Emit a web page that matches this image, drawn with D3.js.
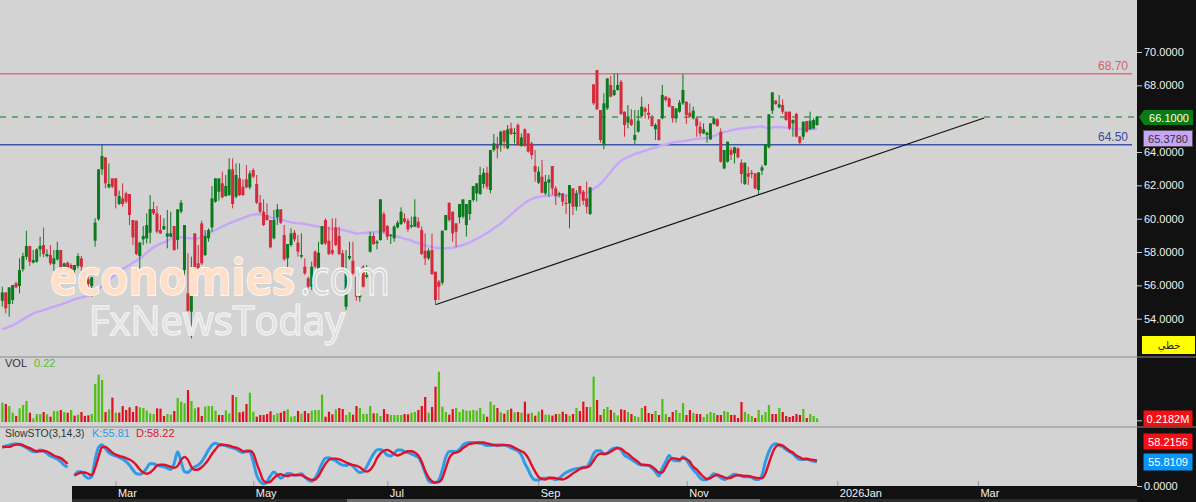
<!DOCTYPE html>
<html>
<head>
<meta charset="utf-8">
<script src="https://cdn.jsdelivr.net/npm/d3@7"></script>
<style>
  html, body { margin: 0; padding: 0; background: #d3d3d3; overflow: hidden; }
  svg { display: block; font-family: "Liberation Sans", Arial, sans-serif; }
</style>
</head>
<body>
<script>
// daily candles, 238 sessions
const opens = [
55.08,55.58,54.88,55.12,56.12,55.96,56.96,57.72,58.36,57.36,
57.42,58.16,58.42,57.76,57.82,57.28,57.56,58.12,57.02,57.36,
57.22,56.92,57.16,57.62,56.2,56.36,55.96,58.68,59.96,62.96,63.68,
61.88,62.42,62.42,60.88,61.22,61.52,61.48,59.92,59.88,57.76,
58.76,58.82,59.16,60.58,60.32,59.32,59.36,58.92,58.92,59.56,
58.72,60.42,56.92,55.52,54.42,59.12,57.32,59.72,57.82,58.82,
59.48,61.02,61.62,62.12,61.36,61.42,62.96,61.32,62.42,61.92,
62.36,61.88,62.92,62.08,60.96,60.42,60.22,59.92,58.82,60.08,
60.56,59.02,57.62,58.42,59.16,58.56,
57.72,57.12,56.42,55.92,58.02,56.96,58.48,59.92,58.68,58.12,
59.48,58.96,57.92,54.72,57.62,57.48,56.52,55.28,57.12,56.52,
58.02,58.96,58.52,58.72,60.28,59.56,58.96,58.82,59.48,59.68,
60.02,59.88,59.52,59.52,59.82,59.32,58.08,57.62,58.12,56.82,
56.22,56.16,59.32,60.96,60.42,59.72,60.08,60.12,59.62,60.28,
61.12,61.52,61.48,62.08,62.76,61.72,64.12,64.42,64.42,65.28,
64.22,65.42,65.08,65.62,64.36,65.36,65.12,64.52,63.16,62.16,
62.52,61.52,62.16,63.16,61.82,61.42,61.52,60.96,60.92,61.82,
60.72,61.96,61.62,61.22,60.28,
68.06,68.92,66.52,64.42,66.62,68.02,67.42,67.72,68.22,66.42,
65.76,65.96,64.72,65.22,66.16,66.62,66.36,66.08,65.36,65.96,
66.02,67.32,67.22,66.76,66.02,66.42,66.92,67.02,66.36,66.02,
66.02,65.52,65.12,65.02,64.76,65.68,65.96,65.22,63.02,63.42,
64.12,63.92,64.22,63.36,62.08,62.72,62.76,62.72,61.72,62.88,
63.22,64.28,66.48,67.08,66.68,66.82,66.42,66.42,65.72,66.28,
64.92,64.92,65.86,65.36,65.42,65.62
];
const highs = [
55.92,55.58,55.88,56.02,56.22,57.62,57.96,59.28,58.36,58.12,
58.22,58.92,59.46,58.16,58.42,58.12,58.62,58.12,57.36,57.42,
57.32,57.22,57.92,57.76,56.32,56.52,56.52,60.02,62.96,64.44,63.68,
63.32,62.42,62.42,61.68,62.12,61.62,61.48,59.92,59.88,58.62,
59.56,60.32,61.42,61.02,60.76,60.22,60.02,60.52,60.42,59.56,
60.56,61.12,59.62,57.92,57.72,59.12,58.42,59.88,59.32,59.42,
61.96,62.42,62.42,62.82,62.62,63.62,63.62,63.32,63.32,62.36,
63.22,62.88,63.02,62.62,61.42,61.16,60.92,59.92,60.52,60.88,
60.56,59.62,58.48,59.42,59.32,59.02,
59.12,57.62,56.52,57.42,58.12,58.62,59.56,60.02,59.52,60.02,
60.02,59.52,58.12,58.12,58.62,58.62,56.92,55.72,57.22,57.22,
59.22,59.16,58.72,61.16,60.42,59.62,59.08,59.62,59.88,60.68,
60.32,60.02,60.12,61.16,60.08,59.52,59.12,58.22,59.12,56.82,
56.32,59.28,60.22,60.96,60.42,59.72,60.88,61.16,60.88,61.12,
61.96,62.12,63.12,63.02,63.12,64.12,65.08,64.92,65.28,65.32,
65.62,65.76,65.42,65.72,65.12,65.42,65.12,64.62,64.12,63.12,
63.52,62.62,62.62,63.16,61.96,61.62,61.52,61.42,62.02,61.82,
61.72,61.96,61.72,62.22,61.88,
68.06,68.92,66.52,67.52,68.42,68.56,68.72,68.72,68.32,66.42,
66.82,66.56,66.52,66.52,67.32,66.72,66.88,66.22,65.72,65.96,
68.02,67.36,67.28,66.76,66.62,67.12,68.68,67.02,66.92,66.72,
66.08,65.82,65.72,65.22,65.72,66.08,66.02,65.42,64.12,64.62,
64.28,64.32,64.28,63.56,63.36,63.12,62.92,62.72,62.78,63.22,
64.48,66.26,67.58,67.12,67.42,67.16,66.42,66.42,65.96,66.36,
64.96,65.82,65.86,66.42,66.02,66.16
];
const lows = [
54.72,54.32,54.12,54.88,55.82,55.52,56.82,57.52,57.16,57.32,
57.36,57.72,57.68,57.68,57.22,56.88,57.48,56.96,56.96,56.92,
56.52,56.72,57.02,56.72,55.92,55.92,55.32,58.32,59.88,62.62,61.82,
61.82,61.82,60.62,60.82,60.72,60.92,59.62,58.42,57.82,56.92,
58.42,58.52,58.52,60.22,59.12,59.08,59.32,58.22,58.88,58.08,
58.16,60.32,56.52,54.42,52.82,56.72,56.82,57.22,57.76,58.62,
59.22,60.96,61.08,61.22,61.32,61.36,60.62,61.22,61.36,61.36,
61.82,61.76,62.42,60.88,60.32,59.56,59.88,58.22,58.76,59.62,
59.68,57.48,56.92,58.32,58.62,57.72,
57.62,56.62,55.82,55.72,57.02,56.92,58.42,58.42,57.82,57.82,
58.36,57.82,56.88,54.52,57.52,56.62,55.08,55.02,55.88,56.42,
57.96,58.42,58.16,58.68,59.12,58.72,58.48,58.62,59.42,59.62,
59.72,59.22,59.42,59.48,59.42,57.82,57.22,57.52,56.62,54.82,
55.12,56.02,59.28,59.82,58.62,58.28,59.72,60.02,58.92,59.92,
61.02,61.02,61.42,61.82,61.76,61.52,64.02,63.62,64.02,64.22,
64.16,65.02,64.52,64.36,64.32,64.32,63.96,63.56,62.22,62.08,
61.52,61.42,61.32,61.42,60.82,61.28,60.76,60.28,59.42,60.22,
60.48,60.72,60.82,60.32,60.22,
66.82,66.52,64.56,64.16,66.52,67.28,67.36,67.68,66.22,64.92,
65.42,65.56,64.48,65.16,66.08,66.02,65.96,65.52,64.72,64.68,
65.96,67.02,66.68,65.76,65.76,66.36,66.82,65.68,66.08,65.96,
64.92,64.92,65.08,64.56,64.72,65.62,65.52,63.36,62.96,63.36,
63.52,63.32,63.62,62.12,62.02,62.02,62.42,61.76,61.42,62.62,
63.16,64.22,66.28,66.82,66.62,66.28,65.88,65.32,64.92,64.88,
64.42,64.72,65.16,65.32,65.36,65.56
];
const closes = [
55.58,54.62,55.88,56.02,55.88,56.92,57.76,58.36,57.42,57.52,
58.16,58.36,57.88,57.88,57.32,57.62,58.12,57.02,57.32,56.96,
56.82,57.22,57.76,57.12,56.04,56.08,56.48,59.76,62.96,63.76,62.12,
62.08,61.92,61.36,61.36,60.88,61.02,60.22,58.88,57.88,58.56,
58.96,59.62,60.58,60.32,59.22,59.12,59.56,59.12,59.12,58.12,
60.56,60.96,59.62,54.48,55.52,56.92,56.92,57.32,58.96,59.32,
61.22,62.42,62.42,61.28,61.96,62.96,60.88,62.62,61.42,61.42,
61.88,62.72,62.52,60.96,60.42,59.62,59.92,58.28,59.92,60.56,
59.76,57.56,58.48,59.12,58.76,58.02,
57.82,56.72,55.92,57.12,57.12,57.96,59.56,58.52,57.88,57.92,
58.42,57.88,56.96,56.96,57.76,56.72,55.32,55.42,55.92,56.62,
58.96,58.48,58.62,61.16,59.22,58.92,59.02,59.52,59.76,60.42,
59.82,59.36,59.62,60.12,59.48,57.88,57.62,58.08,56.68,55.12,
55.92,59.28,60.22,59.92,59.12,59.22,60.88,61.16,60.88,61.12,
61.96,62.12,62.62,62.76,61.92,64.12,64.52,64.22,65.22,64.62,
65.36,65.08,65.16,64.42,64.88,64.36,64.02,63.82,62.82,62.82,
61.56,62.22,62.36,61.82,61.36,61.52,61.02,60.88,62.02,60.72,
61.52,61.52,61.08,60.72,61.88,
66.92,66.56,64.72,66.92,68.42,67.32,67.72,68.02,66.28,65.62,
66.08,65.62,65.02,65.88,66.72,66.42,66.22,65.56,65.62,64.72,
67.42,67.12,66.72,66.02,66.62,66.96,67.72,66.22,66.12,66.48,
65.56,65.12,65.36,65.16,65.72,66.02,65.56,63.42,64.12,64.62,
63.82,64.28,63.68,62.68,63.36,62.52,62.68,61.82,62.78,63.08,
64.48,66.26,67.58,66.88,66.86,66.42,65.92,65.42,65.92,64.92,
64.56,65.82,65.22,65.88,65.92,66.10
];
// moving average line on the price pane
const maValues = [
53.38,53.44,53.52,53.6,53.7,53.84,53.96,54.08,54.2,54.3,
54.4,54.46,54.52,54.58,54.66,54.72,54.78,54.84,54.92,55,
55.08,55.16,55.22,55.26,55.32,55.38,55.48,55.62,55.78,55.96,
56.16,56.32,56.5,56.66,56.82,56.98,57.1,57.22,57.36,57.48,
57.62,57.76,57.96,58.12,58.28,58.4,58.5,58.58,58.68,58.78,
58.88,58.9,58.88,58.86,58.84,58.82,58.8,58.82,58.88,59,
59.1,59.22,59.32,59.42,59.54,59.62,59.72,59.8,59.88,59.96,
60.04,60.12,60.2,60.24,60.28,60.26,60.2,60.14,60.08,60.04,
60,59.96,59.9,59.84,59.78,59.75,59.72,
59.72,59.68,59.64,59.6,59.56,59.52,59.48,59.44,59.42,59.4,59.38,
59.36,59.32,59.28,59.22,59.16,59.1,59.12,59.14,59.16,59.18,
59.2,59.22,59.2,59.16,59.08,59.02,58.96,58.92,58.86,58.8,
58.74,58.68,58.6,58.54,58.46,58.4,58.34,58.3,58.26,58.24,
58.22,58.22,58.24,58.26,58.3,58.36,58.42,58.5,58.58,58.68,
58.78,58.9,59.02,59.14,59.28,59.42,59.56,59.7,59.88,60.06,
60.26,60.44,60.62,60.78,60.94,61.08,61.18,61.26,61.3,61.34,
61.36,61.38,61.4,61.36,61.38,61.4,61.42,61.44,61.46,61.48,
61.5,61.52,61.56,61.64,
61.8,61.92,62.08,62.32,62.56,62.78,63.08,63.28,63.48,63.6,
63.7,63.8,63.88,63.94,64.02,64.08,64.14,64.22,64.28,64.36,
64.42,64.46,64.52,64.56,64.6,64.62,64.64,64.68,64.72,64.76,
64.78,64.8,64.82,64.84,64.92,64.96,65.04,65.12,65.2,65.24,
65.3,65.36,65.38,65.42,65.44,65.46,65.48,65.5,65.52,65.54,
65.46,65.42,65.46,65.5,65.5,65.48,65.46,65.42,65.4,65.4,
65.39,65.385,65.38,65.38,65.378,65.378
];
// volume in millions
const volumes = [
1.16,1.08,.96,.56,.36,.82,1.02,1.26,.56,.22,
.48,.48,.6,.46,.32,.66,.66,.72,.6,.56,
.72,.38,.44,.6,.36,.4,.48,2.28,2.84,2.52,.6,
.76,1.46,.56,.56,.96,.72,.88,.6,.96,.88,
.84,.68,.52,.48,.82,.8,.36,.48,.44,.66,
1.44,1.22,1.12,1.92,1.26,.82,.88,.36,.92,.96,
.96,.68,.42,.42,.7,.52,1.62,1.5,.58,.62,
1.08,1.76,.62,.32,.42,.42,.48,.64,.42,.52,
.56,.66,.76,.32,.36,.66,
.5,.66,.52,.68,.72,.72,1.64,.32,.62,.46,
.76,.84,.78,.42,.6,.44,.96,.84,.48,.48,
.96,.52,.52,.36,.78,.48,.42,.42,.42,.42,
.48,.46,.56,.6,.72,.96,1.5,.56,.9,2.12,
3.02,.92,.6,.44,.78,.84,.6,.76,.68,.68,
.72,.68,.84,.48,.32,1.22,1.02,.84,.58,.5,
.72,.8,.58,.6,.56,1.22,.5,.56,.38,.62,
.74,.44,.44,.38,.48,.48,.62,.48,.38,.48,
.84,.66,1.22,.9,.9,2.72,1.32,.42,
.78,.9,.72,.56,.4,.76,.72,.6,.48,.36,
.3,.84,.96,.54,.48,.66,.42,1.38,.48,.3,
.6,.72,.54,1.14,.42,.72,.54,.48,.48,.3,
.48,.6,.54,.42,.42,.66,.6,.42,.42,.24,
1.2,.6,.48,.36,.24,.72,.42,.6,1.02,.48,
.48,.84,.6,.36,.3,.36,.48,.42,.78,.24,
.48,.36,.2182
];
// 1 = green volume bar, 0 = red, the colour does not always follow the candle
const volumeUp = [
1,0,1,1,0,1,1,1,0,1,
1,1,0,1,0,1,1,0,1,0,
1,0,1,0,0,0,1,1,1,1,
0,1,0,1,0,0,0,0,0,0,
1,1,1,1,1,0,0,0,1,1,
0,1,1,1,0,1,1,0,0,1,
1,1,1,0,0,1,1,0,1,0,
0,0,1,1,0,0,0,0,0,1,
1,0,0,1,1,1,0,
1,0,0,1,1,1,1,0,0,0,
1,0,0,1,1,0,0,1,1,1,
1,0,1,1,0,0,1,1,1,1,
0,0,1,1,0,0,0,1,0,0,
1,1,1,0,0,1,1,1,1,1,
1,1,1,1,0,1,1,0,1,0,
1,0,1,0,1,0,0,1,0,1,
0,1,1,0,0,1,0,0,1,0,
1,0,0,0,1,1,0,0,
1,1,0,1,1,0,0,1,0,1,
1,1,0,0,0,1,0,1,1,0,
0,1,1,1,0,0,1,0,0,1,
1,1,1,0,0,1,1,0,0,0,
0,1,1,1,0,1,1,1,1,0,
0,1,0,0,0,0,0,0,1,0,
1,1,1
];
// slow stochastic, null where the line breaks
const stochK = [
90,92,94,96,97,95,92,88,83,79,79,83,80,75,69,66,62,56,48,43,
null,23,33,33,23,18,21,60,89,95,86,77,72,69,66,62,56,48,37,28,
27,31,41,52,51,48,46,44,41,38,52,79,56,33,31,39,44,48,56,69,
83,94,98,96,94,93,90,88,85,80,77,81,79,56,25,10,5,10,23,32,
25,18,23,29,28,25,26,
28,21,14,11,18,33,52,64,65,61,58,52,48,47,50,46,37,31,33,44,
60,74,83,84,79,71,69,75,83,83,79,77,74,70,66,52,31,12,8,8,
14,37,66,79,80,79,84,94,99,100,100,100,98,96,93,93,94,94,94,94,
92,88,84,80,71,52,37,21,14,14,18,18,18,17,15,18,25,31,35,38,
40,41,43,44,56,74,81,
81,73,75,83,87,88,83,71,66,61,56,51,48,48,47,41,33,23,41,56,
70,60,58,58,67,60,48,37,29,18,14,15,21,28,25,19,15,18,23,27,
25,23,21,21,20,15,15,25,56,79,93,97,94,90,84,79,74,66,61,61,
62,59,57,55.81
];
const stochD = [
89,90,90,93,95,96,94,90,87,83,80,80,81,79,75,70,67,64,58,51,
null,25,28,31,31,28,25,41,67,89,90,84,77,72,69,67,64,61,56,48,
38,31,28,31,38,47,49,49,47,44,42,46,60,67,60,44,37,38,43,51,
61,74,84,93,95,94,93,90,88,85,80,79,81,75,52,31,12,8,10,18,
25,27,24,23,25,25,25,
25,21,17,14,15,23,37,51,60,63,63,61,58,54,51,48,47,43,37,33,
37,48,64,75,81,83,79,74,70,73,77,80,80,77,70,56,35,20,11,8,
9,18,41,64,74,77,80,87,92,97,98,99,100,100,98,96,94,93,94,94,
94,92,88,84,80,75,64,48,33,21,16,15,19,19,18,16,15,18,23,29,
34,39,42,43,47,58,70,
74,74,75,79,84,87,86,79,74,67,61,55,49,48,48,44,38,31,31,44,
58,64,63,61,64,62,56,44,38,29,21,16,18,23,26,23,20,18,19,23,
25,24,23,23,21,19,18,18,29,52,75,90,95,93,87,81,77,70,66,62,
62,61,60,58.22
];
// axes and levels, 66 is hidden behind the last price flag in the picture
const priceTicks = [54, 56, 58, 60, 62, 64, 68, 70];
const monthIdx = [32.9, 73, 112, 155.9, 199.1, 242.9, 283.8];
const monthLabels = ["Mar", "May", "Jul", "Sep", "Nov", "2026Jan", "Mar"];
const levelValues = [68.70, 64.44];
const levelLabels = ["68.70", "64.50"];
const lastPrice = 66.10;
const trendIdx = [126.2, 285.6];
const trendPrices = [54.85, 66.04];

const width = 1196, height = 502;
const plotRight = 1137;
const upColor = "#0b7a1c", downColor = "#d42a3c";

const x = d3.scaleLinear().domain([0, opens.length - 1]).range([2.3, 817]);
const yPrice = d3.scaleLinear().domain([54, 70]).range([318.7, 52]);
const yVol = d3.scaleLinear().domain([0, 3]).range([422, 372]);
const yStoch = d3.scaleLinear().domain([0, 100]).range([486, 442.5]);

const svg = d3.select("body").append("svg")
    .attr("width", width)
    .attr("height", height);

svg.append("rect").attr("width", width).attr("height", height).attr("fill", "#d3d3d3");

const idx = d3.range(opens.length);
const isUp = i => closes[i] >= opens[i];

// price levels
svg.selectAll(".level")
    .data(levelValues)
    .enter().append("line")
    .attr("x1", 0)
    .attr("x2", 1132)
    .attr("y1", d => yPrice(d))
    .attr("y2", d => yPrice(d))
    .attr("stroke", (d, i) => i == 0 ? "#e2707e" : "#3c55ad")
    .attr("stroke-width", 1.5);

svg.selectAll(".levelLabel")
    .data(levelLabels)
    .enter().append("text")
    .attr("x", 1128)
    .attr("y", (d, i) => yPrice(levelValues[i]) - 4)
    .attr("text-anchor", "end")
    .attr("font-size", 12)
    .attr("fill", (d, i) => i == 0 ? "#d8606f" : "#3a4a9a")
    .text(d => d);

svg.append("line")
    .attr("x1", 0)
    .attr("x2", plotRight)
    .attr("y1", yPrice(lastPrice))
    .attr("y2", yPrice(lastPrice))
    .attr("stroke", upColor)
    .attr("stroke-dasharray", "6,6");

// moving average
svg.append("path")
    .datum(maValues)
    .attr("fill", "none")
    .attr("stroke", "#c6a6fb")
    .attr("stroke-width", 2.4)
    .attr("d", d3.line().x((d, i) => x(i)).y(d => yPrice(d)));

// candles
svg.selectAll(".wick")
    .data(idx)
    .enter().append("line")
    .attr("x1", i => x(i))
    .attr("x2", i => x(i))
    .attr("y1", i => yPrice(highs[i]))
    .attr("y2", i => yPrice(lows[i]))
    .attr("stroke", i => isUp(i) ? upColor : downColor)
    .attr("stroke-width", 1);

svg.selectAll(".body")
    .data(idx)
    .enter().append("rect")
    .attr("x", i => x(i) - 1.5)
    .attr("width", 3)
    .attr("y", i => yPrice(Math.max(opens[i], closes[i])))
    .attr("height", i => Math.max(1, Math.abs(yPrice(opens[i]) - yPrice(closes[i]))))
    .attr("fill", i => isUp(i) ? upColor : downColor);

// trend line
svg.append("line")
    .attr("x1", x(trendIdx[0]))
    .attr("y1", yPrice(trendPrices[0]))
    .attr("x2", x(trendIdx[1]))
    .attr("y2", yPrice(trendPrices[1]))
    .attr("stroke", "#111")
    .attr("stroke-width", 1.2);

// watermark sits on top of the candles
svg.append("text")
    .attr("x", 50)
    .attr("y", 295)
    .attr("font-family", "'Open Sans', sans-serif")
    .attr("font-weight", 700)
    .attr("font-size", 50)
    .attr("textLength", 245)
    .attr("lengthAdjust", "spacingAndGlyphs")
    .attr("fill", "#ffdfc9")
    .attr("stroke", "#fff")
    .attr("stroke-width", 1.5)
    .attr("paint-order", "stroke")
    .text("economies");
svg.append("text")
    .attr("x", 300)
    .attr("y", 295)
    .attr("font-family", "'Open Sans', sans-serif")
    .attr("font-size", 50)
    .attr("textLength", 90)
    .attr("lengthAdjust", "spacingAndGlyphs")
    .attr("fill", "#d3d3d3")
    .attr("stroke", "#f6f6f6")
    .attr("stroke-width", 1.4)
    .text(".com");
svg.append("text")
    .attr("x", 89)
    .attr("y", 335)
    .attr("font-family", "'Open Sans', sans-serif")
    .attr("font-size", 41)
    .attr("textLength", 256)
    .attr("lengthAdjust", "spacingAndGlyphs")
    .attr("fill", "#dcdcdc")
    .attr("stroke", "#f0f0f0")
    .attr("stroke-width", 1.6)
    .text("FxNewsToday");

// volume pane
svg.selectAll(".vol")
    .data(idx)
    .enter().append("rect")
    .attr("x", i => x(i) - 1)
    .attr("width", 2.2)
    .attr("y", i => yVol(volumes[i]))
    .attr("height", i => yVol(0) - yVol(volumes[i]))
    .attr("fill", i => volumeUp[i] ? "#4fbf14" : "#e0101e");

// stochastic pane
const stochLine = d3.line()
    .defined(d => d != null)
    .x((d, i) => x(i))
    .y(d => yStoch(d))
    .curve(d3.curveMonotoneX);

svg.append("path")
    .datum(stochK)
    .attr("fill", "none")
    .attr("stroke", "#2f9be6")
    .attr("stroke-width", 3)
    .attr("d", stochLine);
svg.append("path")
    .datum(stochD)
    .attr("fill", "none")
    .attr("stroke", "#e0102a")
    .attr("stroke-width", 2.4)
    .attr("d", stochLine);

svg.append("text").attr("x", 5).attr("y", 367).attr("font-size", 11).attr("fill", "#333").text("VOL");
svg.append("text").attr("x", 34).attr("y", 367).attr("font-size", 11).attr("fill", "#5fb82e").text("0.22");
svg.append("text").attr("x", 5).attr("y", 437).attr("font-size", 10.4).attr("fill", "#333").text("SlowSTO(3,14,3)");
svg.append("text").attr("x", 92).attr("y", 437).attr("font-size", 11).attr("fill", "#2f9be6").text("K:55.81");
svg.append("text").attr("x", 136).attr("y", 437).attr("font-size", 11).attr("fill", "#d0202e").text("D:58.22");

// right hand scale and bottom time bar
svg.append("rect").attr("x", plotRight).attr("y", 0).attr("width", width - plotRight).attr("height", height).attr("fill", "#111");
svg.append("rect").attr("x", 72).attr("y", 486).attr("width", plotRight - 72).attr("height", 13).attr("fill", "#111");
svg.append("rect").attr("x", 72).attr("y", 499).attr("width", plotRight - 72).attr("height", 3).attr("fill", "#2b2b2b");
svg.append("rect").attr("x", 347).attr("y", 499).attr("width", 413).attr("height", 3).attr("fill", "#6a6a6a");

const priceAxis = svg.append("g")
    .attr("transform", "translate(" + plotRight + ",0)")
    .call(d3.axisRight(yPrice).tickValues(priceTicks).tickFormat(d3.format(".4f")).tickSize(5).tickPadding(2));
const volAxis = svg.append("g")
    .attr("transform", "translate(" + plotRight + ",0)")
    .call(d3.axisRight(yVol).tickValues([0.1]).tickFormat("").tickSize(5));
const stochAxis = svg.append("g")
    .attr("transform", "translate(" + plotRight + ",0)")
    .call(d3.axisRight(yStoch).tickValues([0]).tickFormat(d3.format(".4f")).tickSize(5).tickPadding(2));
const timeAxis = svg.append("g")
    .attr("transform", "translate(0,486)")
    .call(d3.axisBottom(x).tickValues(monthIdx).tickFormat((d, i) => monthLabels[i]).tickSize(-5));

[priceAxis, volAxis, stochAxis, timeAxis].forEach(g => {
    g.select(".domain").remove();
    g.attr("font-family", null).attr("font-size", 11);
    g.selectAll("text").attr("fill", "#f2f2f2");
});
priceAxis.selectAll("line").attr("stroke", "#ccc");
volAxis.selectAll("line").attr("stroke", "#ccc");
stochAxis.selectAll("line").attr("stroke", "#ccc");
timeAxis.selectAll("line").attr("stroke", "#999");
timeAxis.selectAll("text")
    .attr("text-anchor", "start")
    .attr("x", 2)
    .attr("y", 3);

// pane separators
svg.selectAll(".sep")
    .data([357, 427])
    .enter().append("line")
    .attr("x1", 0)
    .attr("x2", width)
    .attr("y1", d => d)
    .attr("y2", d => d)
    .attr("stroke", "#8a8a8a");

// value flags on the scale
const flags = [
    { text: "65.3780", y: 130, h: 16, fill: "#c9a4fb", color: "#333", stroke: "#555" },
    { text: "0.2182M", y: 410, h: 16, fill: "#f40f14", color: "#fff", stroke: "none" },
    { text: "58.2156", y: 433, h: 16, fill: "#f40f14", color: "#fff", stroke: "none" },
    { text: "55.8109", y: 453, h: 17, fill: "#0a94f5", color: "#fff", stroke: "none" }
];
flags.forEach(f => {
    svg.append("rect")
        .attr("x", 1143.5).attr("y", f.y + 0.5).attr("width", 49).attr("height", f.h)
        .attr("fill", f.fill).attr("stroke", f.stroke);
    svg.append("text")
        .attr("x", 1168).attr("y", f.y + f.h / 2 + 4.5)
        .attr("text-anchor", "middle").attr("font-size", 11)
        .attr("fill", f.color).text(f.text);
});

// last price flag points at the dashed line
const py = yPrice(lastPrice);
svg.append("path")
    .attr("d", d3.line()([[1139, py], [1144, py - 7], [1193, py - 7], [1193, py + 8], [1144, py + 8]]) + "Z")
    .attr("fill", "#0b7a12");
svg.append("text")
    .attr("x", 1169).attr("y", py + 4.5)
    .attr("text-anchor", "middle").attr("font-size", 11)
    .attr("fill", "#fff").text("66.1000");

// line type button
svg.append("rect").attr("x", 1142).attr("y", 336).attr("width", 53).attr("height", 18).attr("fill", "#ffff00");
svg.append("text")
    .attr("x", 1169).attr("y", 349)
    .attr("text-anchor", "middle")
    .attr("font-family", "'DejaVu Sans', sans-serif")
    .attr("font-size", 10)
    .attr("fill", "#222")
    .text("خطي");
</script>
</body>
</html>
